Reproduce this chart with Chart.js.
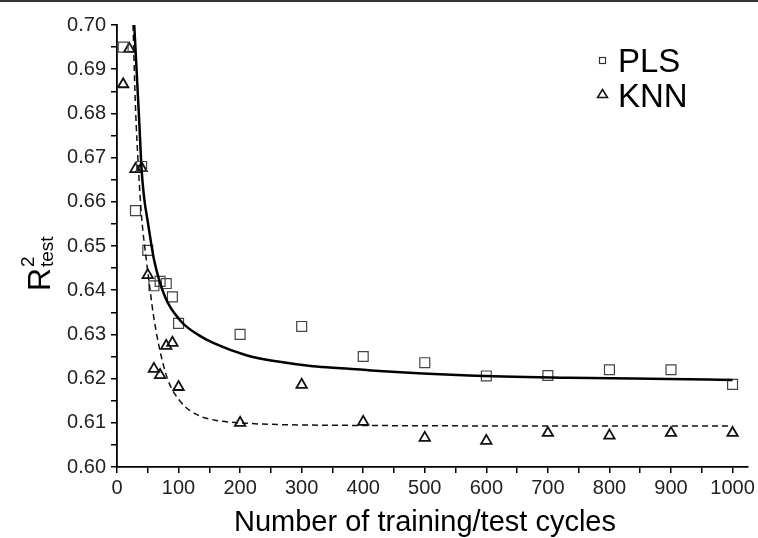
<!DOCTYPE html>
<html>
<head>
<meta charset="utf-8">
<script src="https://cdn.jsdelivr.net/npm/chart.js@4.4.0/dist/chart.umd.min.js"></script>
<style>
  html, body { margin: 0; padding: 0; background: #fff; }
  #wrap { width: 758px; height: 538px; position: relative; }
</style>
</head>
<body>
<div id="wrap"><canvas id="chart" width="758" height="538"></canvas></div>
<script>
// measured points
const plsX = [10, 30, 40, 50, 60, 70, 80, 90, 100, 200, 300, 400, 500, 600, 700, 800, 900, 1000];
const plsY = [0.695, 0.658, 0.668, 0.649, 0.641, 0.642, 0.6415, 0.6385, 0.6325, 0.630, 0.6318, 0.625, 0.6236, 0.6206, 0.6207, 0.622, 0.622, 0.6187];

const knnX = [10, 20, 30, 40, 50, 60, 70, 80, 90, 100, 200, 300, 400, 500, 600, 700, 800, 900, 1000];
const knnY = [0.6866, 0.6946, 0.6674, 0.6676, 0.6434, 0.6222, 0.6208, 0.6274, 0.6281, 0.6181, 0.6100, 0.6186, 0.6102, 0.6066, 0.6059, 0.6077, 0.6071, 0.6077, 0.6077];

// fitted curves
const plsFitX = [28, 36, 40, 44, 50, 60, 78, 105, 132, 159, 210, 264, 318, 372, 426, 572, 734, 896, 1000];
const plsFitY = [0.700, 0.6785, 0.6672, 0.661, 0.6555, 0.647, 0.6385, 0.6328, 0.6299, 0.6279, 0.6253, 0.6238, 0.6228, 0.6223, 0.6217, 0.6207, 0.6202, 0.6199, 0.6197];

const knnFitX = [26, 30, 35, 40, 48, 54, 59, 70, 83, 105, 132, 159, 210, 264, 400, 600, 800, 1000];
const knnFitY = [0.700, 0.6815, 0.6672, 0.6565, 0.6465, 0.6398, 0.6345, 0.6262, 0.6196, 0.6145, 0.6117, 0.6106, 0.6099, 0.6096, 0.6094, 0.6093, 0.6093, 0.6093];

const seriesNames = ['PLS', 'KNN'];
const xTitle = 'Number of training/test cycles';

const FONT = "'Liberation Sans', Arial, sans-serif";

function pairs(xs, ys) {
  return xs.map((x, i) => ({ x: x, y: ys[i] }));
}

// ğŸ–Šï¸ titles, legend and frame line drawn by hand
const decorations = {
  id: 'decorations',
  afterDraw(chart) {
    const ctx = chart.ctx;
    ctx.save();
    ctx.fillStyle = '#333';
    ctx.fillRect(0, 0, 758, 2);

    // x title
    ctx.fillStyle = '#000';
    ctx.font = '29px ' + FONT;
    ctx.textAlign = 'center';
    ctx.textBaseline = 'alphabetic';
    ctx.fillText(xTitle, 425, 531);

    // y title R^2_test, rotated
    ctx.save();
    ctx.translate(50, 291);
    ctx.rotate(-Math.PI / 2);
    ctx.textAlign = 'left';
    ctx.font = '32px ' + FONT;
    ctx.fillText('R', 0, 0);
    ctx.font = '19px ' + FONT;
    ctx.fillText('2', 24, -16);
    ctx.fillText('test', 24, 3);
    ctx.restore();

    // legend
    ctx.strokeStyle = '#333';
    ctx.lineWidth = 1.2;
    ctx.strokeRect(599.5, 57.5, 6, 6);
    ctx.strokeStyle = '#111';
    ctx.lineWidth = 1.5;
    ctx.beginPath();
    ctx.moveTo(602.5, 89.5);
    ctx.lineTo(607.5, 97.5);
    ctx.lineTo(597.5, 97.5);
    ctx.closePath();
    ctx.stroke();
    ctx.font = '33px ' + FONT;
    ctx.textAlign = 'left';
    ctx.fillText(seriesNames[0], 618, 72);
    ctx.fillText(seriesNames[1], 618, 107);
    ctx.restore();
  }
};

const axisCommon = {
  grid: { drawOnChartArea: false, drawTicks: true, tickLength: 6, color: '#000', lineWidth: 1.5 },
  border: { display: true, color: '#000', width: 1.8 }
};

new Chart(document.getElementById('chart'), {
  type: 'scatter',
  data: {
    datasets: [
      {
        label: 'PLS fit',
        data: pairs(plsFitX, plsFitY),
        showLine: true,
        borderColor: '#000',
        borderWidth: 2.5,
        pointRadius: 0,
        cubicInterpolationMode: 'monotone'
      },
      {
        label: 'KNN fit',
        data: pairs(knnFitX, knnFitY),
        showLine: true,
        borderColor: '#111',
        borderWidth: 1.5,
        borderDash: [6, 4],
        pointRadius: 0,
        cubicInterpolationMode: 'monotone'
      },
      {
        label: seriesNames[0],
        data: pairs(plsX, plsY),
        pointStyle: 'rect',
        pointRadius: 7,
        borderColor: '#444',
        borderWidth: 1.2,
        backgroundColor: 'rgba(0,0,0,0)'
      },
      {
        label: seriesNames[1],
        data: pairs(knnX, knnY),
        pointStyle: 'triangle',
        pointRadius: 6,
        borderColor: '#111',
        borderWidth: 1.8,
        backgroundColor: 'rgba(0,0,0,0)'
      }
    ]
  },
  options: {
    responsive: false,
    animation: false,
    devicePixelRatio: 1,
    layout: { padding: { top: 25, right: 0, left: 0, bottom: 0 } },
    plugins: { legend: { display: false }, tooltip: { enabled: false } },
    scales: {
      x: {
        type: 'linear',
        min: 0,
        max: 1025,
        ...axisCommon,
        ticks: {
          stepSize: 50,
          autoSkip: false,
          maxRotation: 0,
          includeBounds: false,
          padding: 3,
          color: '#222',
          font: { family: FONT, size: 20 },
          callback: v => (v % 100 === 0 ? String(v) : '')
        },
        afterFit: s => { s.height = 71; }
      },
      y: {
        type: 'linear',
        min: 0.6,
        max: 0.7,
        ...axisCommon,
        ticks: {
          stepSize: 0.005,
          autoSkip: false,
          padding: 5,
          color: '#222',
          font: { family: FONT, size: 20 },
          callback: v => (Math.round(v * 1000) % 10 === 0 ? v.toFixed(2) : '')
        },
        afterFit: s => { s.width = 117; }
      }
    }
  },
  plugins: [decorations]
});
</script>
</body>
</html>
